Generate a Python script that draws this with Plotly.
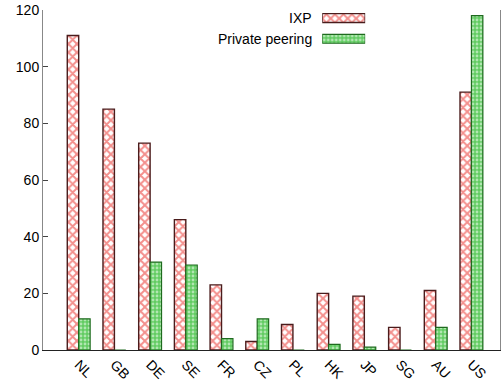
import plotly.graph_objects as go

countries = ["NL", "GB", "DE", "SE", "FR", "CZ", "PL", "HK", "JP", "SG", "AU", "US"]
ixp = [111, 85, 73, 46, 23, 3, 9, 20, 19, 8, 21, 91]
private = [11, 0, 31, 30, 4, 11, 0, 2, 1, 0, 8, 118]
legend_names = ["IXP", "Private peering"]
y_ticks = [0, 20, 40, 60, 80, 100, 120]

RED = "#e8201a"
FONT = "Liberation Sans, Arial, sans-serif"

red_marker = dict(color="white", line=dict(color="#4a1c1c", width=1.4),
                  pattern=dict(shape="x", fgcolor=RED, bgcolor="white", size=6, solidity=0.55))
green_marker = dict(color="white", line=dict(color="#1e6a1e", width=1.2),
                    pattern=dict(shape=".", fgcolor="white", bgcolor="#62cc62", size=4, solidity=0.4))

fig = go.Figure()
fig.add_trace(go.Bar(x=countries, y=ixp, name=legend_names[0], marker=red_marker, showlegend=False))
fig.add_trace(go.Bar(x=countries, y=private, name=legend_names[1], marker=green_marker, showlegend=False))

# legend keys (custom, text left of key, like gnuplot)
fig.add_trace(go.Bar(x=[1], y=[legend_names[0]], orientation="h", marker=red_marker,
                     xaxis="x2", yaxis="y2", showlegend=False, hoverinfo="skip", width=0.43))
fig.add_trace(go.Bar(x=[1], y=[legend_names[1]], orientation="h", marker=green_marker,
                     xaxis="x2", yaxis="y2", showlegend=False, hoverinfo="skip", width=0.43))

for i, name in enumerate(legend_names):
    fig.add_annotation(xref="paper", yref="paper", x=0.593, y=0.976 - i * 0.061, text=name,
                       showarrow=False, xanchor="right", yanchor="middle",
                       font=dict(family=FONT, size=14, color="black"))

fig.update_layout(
    width=501, height=380,
    margin=dict(l=43, r=1, t=10, b=30),
    paper_bgcolor="white", plot_bgcolor="white",
    barmode="group", bargap=0.36, bargroupgap=0,
    font=dict(family=FONT, size=14, color="black"),
    xaxis=dict(type="category", range=[-1.0, 11.8], tickangle=45, showgrid=False,
               ticks="", showline=True, linecolor="#222", linewidth=1, mirror=False,
               zeroline=False, tickfont=dict(size=14), automargin=False),
    yaxis=dict(range=[0, 120], tickvals=y_ticks, ticks="inside", ticklen=5, tickcolor="#444",
               showgrid=False, zeroline=False, showline=True, linecolor="#888", linewidth=1,
               mirror=True, tickfont=dict(size=14), automargin=False),
    xaxis2=dict(domain=[0.611, 0.705], range=[0, 1], visible=False, fixedrange=True),
    yaxis2=dict(domain=[0.85, 1.0], type="category", range=[2.07, -0.39], visible=False,
                fixedrange=True, anchor="x2"),
)

fig.write_html("out.html", config={"displayModeBar": False},
               post_script="document.body.style.margin='0';")
